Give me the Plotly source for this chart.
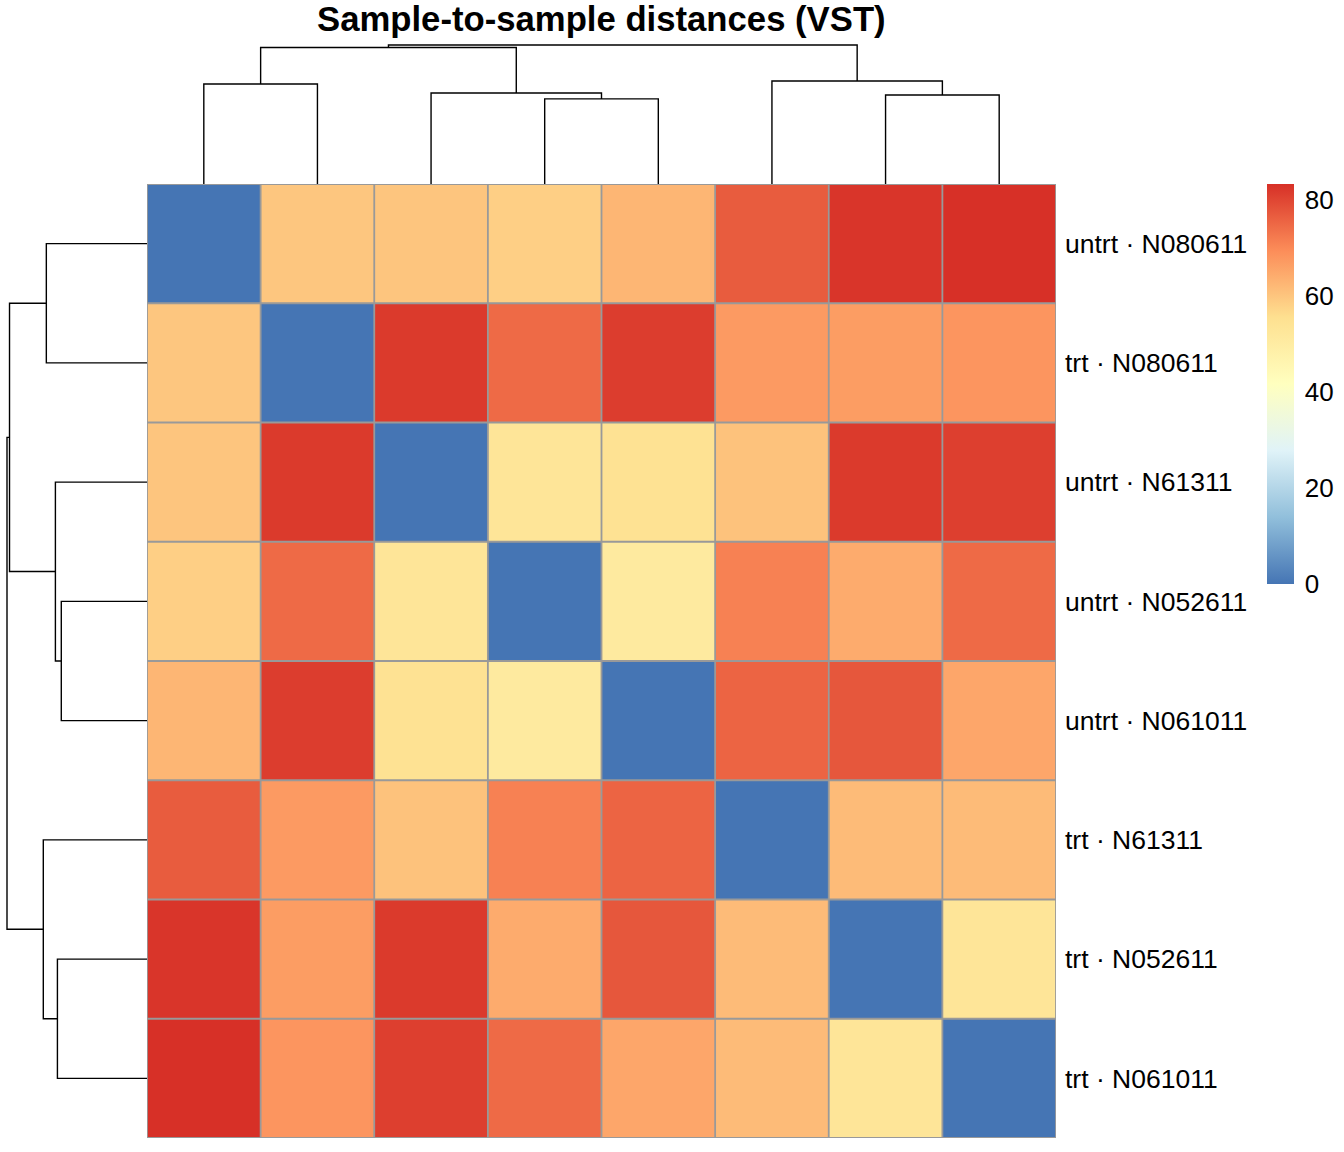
import plotly.graph_objects as go

# ---- data (display order) ----
labels = ["untrt · N080611", "trt · N080611", "untrt · N61311", "untrt · N052611",
          "untrt · N061011", "trt · N61311", "trt · N052611", "trt · N061011"]

row_untrt_N080611 = [0.0, 59.9, 60.0, 58.3, 62.5, 76.8, 82.6, 83.3]
row_trt_N080611   = [59.9, 0.0, 81.8, 74.6, 81.4, 67.2, 66.8, 68.0]
row_untrt_N61311  = [60.0, 81.8, 0.0, 53.3, 54.5, 60.5, 81.8, 81.0]
row_untrt_N052611 = [58.3, 74.6, 53.3, 0.0, 51.0, 71.2, 64.4, 74.7]
row_untrt_N061011 = [62.5, 81.4, 54.5, 51.0, 0.0, 75.5, 77.5, 65.2]
row_trt_N61311    = [76.8, 67.2, 60.5, 71.2, 75.5, 0.0, 61.7, 61.7]
row_trt_N052611   = [82.6, 66.8, 81.8, 64.4, 77.5, 61.7, 0.0, 53.3]
row_trt_N061011   = [83.3, 68.0, 81.0, 74.7, 65.2, 61.7, 53.3, 0.0]

dist = [row_untrt_N080611, row_trt_N080611, row_untrt_N61311, row_untrt_N052611,
        row_untrt_N061011, row_trt_N61311, row_trt_N052611, row_trt_N061011]

colorbar_ticks = [0, 20, 40, 60, 80]
rdylbu_rev = ["#4575B4", "#91BFDB", "#E0F3F8", "#FFFFBF", "#FEE090", "#FC8D59", "#D73027"]

# ---- complete-linkage clustering ----
def complete_linkage(D):
    n = len(D)
    members = {i: [i] for i in range(n)}
    active = list(range(n))
    merges = []
    nid = n
    while len(active) > 1:
        best = None
        for ia in range(len(active)):
            for ib in range(ia + 1, len(active)):
                a, b = active[ia], active[ib]
                d = max(D[i][j] for i in members[a] for j in members[b])
                if best is None or d < best[0]:
                    best = (d, a, b)
        d, a, b = best
        members[nid] = members[a] + members[b]
        merges.append((a, b, d))
        active.remove(a); active.remove(b); active.append(nid)
        nid += 1
    return merges

def dendro_lines(D):
    n = len(D)
    merges = complete_linkage(D)
    pos = {i: float(i) for i in range(n)}
    hgt = {i: 0.0 for i in range(n)}
    xs, ys = [], []
    nid = n
    for a, b, d in merges:
        xs += [pos[a], pos[a], pos[b], pos[b], None]
        ys += [hgt[a], d, d, hgt[b], None]
        pos[nid] = (pos[a] + pos[b]) / 2
        hgt[nid] = d
        nid += 1
    return xs, ys, max(m[2] for m in merges)

dx, dy, hmax = dendro_lines(dist)
zmax = max(max(r) for r in dist)

W, H = 1344, 1152
L, R, T, B = 147, 1056, 184, 1138
FONT = "Liberation Sans, Arial, Helvetica, sans-serif"

n = len(labels)
colorscale = [[i / (len(rdylbu_rev) - 1), c] for i, c in enumerate(rdylbu_rev)]

fig = go.Figure()
fig.add_trace(go.Heatmap(
    z=dist, x=list(range(n)), y=list(range(n)),
    zmin=0, zmax=zmax, colorscale=colorscale,
    xaxis="x", yaxis="y",
    colorbar=dict(x=1267 / W, xanchor="left", y=(H - T) / H, yanchor="top",
                  len=400, lenmode="pixels", thickness=27, thicknessmode="pixels",
                  xpad=0, ypad=0, outlinewidth=0, tickvals=colorbar_ticks,
                  ticks="outside", ticklen=6, tickcolor="rgba(0,0,0,0)",
                  tickfont=dict(size=26, color="black", family=FONT)),
    hoverinfo="skip",
))
# column dendrogram
fig.add_trace(go.Scatter(x=dx, y=dy, mode="lines", xaxis="x2", yaxis="y2",
                         line=dict(color="black", width=1.4), hoverinfo="skip",
                         showlegend=False))
# row dendrogram
fig.add_trace(go.Scatter(x=dy, y=dx, mode="lines", xaxis="x3", yaxis="y3",
                         line=dict(color="black", width=1.4), hoverinfo="skip",
                         showlegend=False))

shapes = []
for k in range(n + 1):
    shapes.append(dict(type="line", xref="x", yref="y", x0=k - 0.5, x1=k - 0.5,
                       y0=-0.5, y1=n - 0.5, line=dict(color="#999999", width=1.8)))
    shapes.append(dict(type="line", xref="x", yref="y", y0=k - 0.5, y1=k - 0.5,
                       x0=-0.5, x1=n - 0.5, line=dict(color="#999999", width=1.8)))

dend_top = T - 139 * 1.05
fig.update_layout(
    width=W, height=H, margin=dict(l=0, r=0, t=0, b=0),
    paper_bgcolor="white", plot_bgcolor="white",
    font=dict(family=FONT, color="black"),
    showlegend=False,
    xaxis=dict(domain=[L / W, R / W], range=[-0.5, n - 0.5], showticklabels=False,
               showgrid=False, zeroline=False, ticks=""),
    yaxis=dict(domain=[(H - B) / H, (H - T) / H], range=[n - 0.5, -0.5], side="right",
               tickvals=list(range(n)), ticktext=labels, ticks="", showgrid=False,
               zeroline=False, ticklabelstandoff=8,
               tickfont=dict(size=26.5, color="black", family=FONT)),
    xaxis2=dict(domain=[L / W, R / W], range=[-0.5, n - 0.5], anchor="y2",
                visible=False),
    yaxis2=dict(domain=[(H - T) / H, (H - dend_top) / H], range=[0, hmax * 1.05],
                anchor="x2", visible=False),
    xaxis3=dict(domain=[0, L / W], range=[hmax * 1.05, 0], anchor="y3", visible=False),
    yaxis3=dict(domain=[(H - B) / H, (H - T) / H], range=[n - 0.5, -0.5], anchor="x3",
                visible=False),
    shapes=shapes,
    annotations=[dict(text="<b>Sample-to-sample distances (VST)</b>", xref="paper",
                      yref="paper", x=(L + R) / 2 / W, y=(H - 19) / H, xanchor="center",
                      yanchor="middle", showarrow=False,
                      font=dict(size=34.7, color="black", family=FONT))],
)

fig.write_html("out.html")
